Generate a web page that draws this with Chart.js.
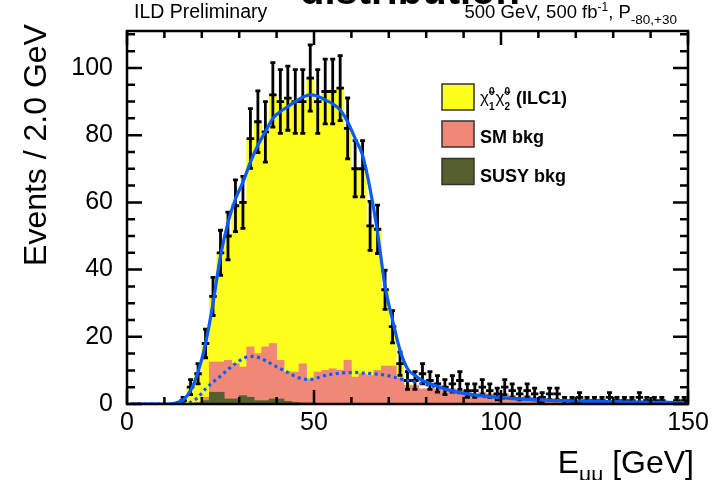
<!DOCTYPE html>
<html>
<head>
<meta charset="utf-8">
<script src="https://cdn.jsdelivr.net/npm/chart.js@4.4.1/dist/chart.umd.min.js"></script>
<style>
  html, body { margin: 0; padding: 0; background: #fff; }
  #wrap { width: 715px; height: 480px; }
</style>
</head>
<body>
<div id="wrap"><canvas id="emumuChart" width="715" height="480"></canvas></div>
<script>
// E_mumu, 2 GeV bins from 0 to 150 GeV, one value per bin (centre 1, 3, ..., 149)
const binCenters = Array.from({ length: 75 }, (_, i) => 1 + 2 * i);

const dataEvents = [
    0, 0, 0, 0, 0, 0, 0, 1, 5, 9,
    18, 32, 45, 50, 59, 60, 79, 84, 81, 92,
    90, 91, 90, 90, 97, 90, 93, 93, 94, 82,
    70, 70, 53, 52, 34, 23, 12, 7, 7, 9,
    7, 6, 5, 6, 7, 4, 4, 5, 4, 3,
    5, 4, 3, 4, 3, 2, 3, 3, 1, 1,
    2, 1, 1, 1, 2, 1, 1, 1, 2, 1,
    1, 1, 0, 1, 1
];

const signalEvents = [
    0, 0, 0, 0, 0, 0, 0.3, 1.2, 5, 8.5,
    16, 20, 32.5, 37, 47, 49, 62, 69, 64, 74,
    77, 81.5, 80.5, 78, 89.5, 80.5, 83, 82.5, 84, 69,
    62, 61, 44.5, 42, 22.5, 11.5, 4, 0.5, 0, 0,
    0, 0, 0, 0, 0, 0, 0, 0, 0, 0,
    0, 0, 0, 0, 0, 0, 0, 0, 0, 0,
    0, 0, 0, 0, 0, 0, 0, 0, 0, 0,
    0, 0, 0, 0, 0
];

const smBkgEvents = [
    0, 0, 0, 0, 0, 0, 0, 0, 0, 0.2,
    1, 9, 9, 11.5, 10.5, 8.5, 15, 14, 16, 16.5,
    11.5, 8.7, 9, 11.7, 7.2, 9.3, 9.8, 10.3, 9.8, 12.8,
    7.8, 8.8, 8.3, 9.8, 11.3, 11.3, 7.8, 5.5, 5.5, 4.5,
    4.5, 4.5, 4, 4.5, 4, 3.5, 3, 3.5, 3, 2.5,
    3, 2.5, 2, 2.5, 2, 1.5, 1.5, 1, 1, 0.8,
    0.8, 0.6, 0.6, 0.5, 0.5, 0.4, 0.4, 0.3, 0.3, 0.3,
    0.2, 0.2, 0.2, 0.1, 0.1
];

const susyBkgEvents = [
    0, 0, 0, 0, 0, 0, 0, 0, 0, 0.3,
    1, 3.5, 3.5, 1.5, 1.5, 2.5, 2, 1, 1, 1.5,
    1.5, 0.8, 0.5, 0.3, 0.3, 0.2, 0.2, 0.2, 0.2, 0.2,
    0.2, 0.2, 0.2, 0.2, 0, 0, 0, 0, 0, 0,
    0, 0, 0, 0, 0, 0, 0, 0, 0, 0,
    0, 0, 0, 0, 0, 0, 0, 0, 0, 0,
    0, 0, 0, 0, 0, 0, 0, 0, 0, 0,
    0, 0, 0, 0, 0
];

// fitted curves read at the bin centres
const fitTotal = [
    0, 0, 0, 0, 0, 0, 0.3, 1.2, 4, 9.5,
    18, 30, 44, 54, 61, 66, 72, 77, 81, 85,
    87, 88.5, 90, 91.3, 92, 91.6, 90.5, 89.3, 87.5, 84,
    79, 74, 64, 51, 35, 25, 16, 10.5, 8.5, 7,
    6, 5.3, 4.5, 3.9, 3.4, 3, 2.7, 2.4, 2.2, 2,
    1.8, 1.6, 1.5, 1.4, 1.3, 1.2, 1.1, 1, 1, 0.9,
    0.9, 0.8, 0.8, 0.7, 0.7, 0.7, 0.6, 0.6, 0.6, 0.5,
    0.5, 0.5, 0.5, 0.4, 0.4
];

const fitBkg = [
    0, 0, 0, 0, 0, 0, 0, 0.1, 0.5, 2,
    4.5, 6.5, 8.3, 10.3, 12, 13.5, 14.2, 13.9, 12.9, 11.7,
    10.5, 9.4, 8.2, 7.5, 7.3, 7.8, 8.5, 8.9, 9.2, 9.3,
    9.4, 9.2, 9.1, 8.9, 8.6, 8.1, 7.5, 7, 6.6, 6,
    5.5, 5, 4.4, 3.8, 3.3, 2.9, 2.6, 2.3, 2.1, 1.9,
    1.7, 1.6, 1.5, 1.4, 1.3, 1.2, 1.1, 1, 1, 0.9,
    0.9, 0.8, 0.8, 0.7, 0.7, 0.7, 0.6, 0.6, 0.6, 0.5,
    0.5, 0.5, 0.5, 0.4, 0.4
];

const xTickLabels = [0, 50, 100, 150];
const yTickLabels = [0, 20, 40, 60, 80, 100];

const legendItems = [
    { label: "signal", color: "#ffff1e" },
    { label: "SM bkg", color: "#f08878" },
    { label: "SUSY bkg", color: "#56602e" }
];

const FONT = "'Liberation Sans', Arial, sans-serif";
const BIN_WIDTH = 2;

const toPoints = (values) => binCenters.map((c, i) => ({ x: c, y: values[i] }));

// draws the data error bars (sqrt N) with small end caps
const errorBars = {
    id: "errorBars",
    afterDatasetDraw(chart, args) {
        if (chart.data.datasets[args.index].label !== "data") return;
        const { ctx, chartArea, scales: { x, y } } = chart;
        ctx.save();
        ctx.beginPath();
        ctx.rect(chartArea.left, chartArea.top, chartArea.right - chartArea.left, chartArea.bottom - chartArea.top);
        ctx.clip();
        ctx.strokeStyle = "#000";
        ctx.lineWidth = 2.8;
        dataEvents.forEach((n, i) => {
            if (n <= 0) return;
            const c = binCenters[i];
            const err = Math.sqrt(n);
            const px = x.getPixelForValue(c);
            const py = y.getPixelForValue(n);
            const yTop = y.getPixelForValue(n + err);
            const yBot = y.getPixelForValue(Math.max(0, n - err));
            ctx.beginPath();
            ctx.moveTo(x.getPixelForValue(c - BIN_WIDTH / 2), py);
            ctx.lineTo(x.getPixelForValue(c + BIN_WIDTH / 2), py);
            ctx.moveTo(px, yTop);
            ctx.lineTo(px, yBot);
            ctx.moveTo(px - 2.5, yTop);
            ctx.lineTo(px + 2.5, yTop);
            ctx.moveTo(px - 2.5, yBot);
            ctx.lineTo(px + 2.5, yBot);
            ctx.stroke();
        });
        ctx.restore();
    }
};

// ROOT-like frame, inward ticks, axis labels, legend and header texts
const frameAndText = {
    id: "frameAndText",
    afterDraw(chart) {
        const { ctx, chartArea: a, scales: { x, y } } = chart;
        ctx.save();
        ctx.strokeStyle = "#000";
        ctx.lineWidth = 2.5;
        ctx.strokeRect(a.left, a.top, a.right - a.left, a.bottom - a.top);

        ctx.beginPath();
        for (let v = 0; v <= 150; v += 10) {
            const px = x.getPixelForValue(v);
            const len = v % 50 === 0 ? 14 : 7;
            ctx.moveTo(px, a.bottom); ctx.lineTo(px, a.bottom - len);
            ctx.moveTo(px, a.top); ctx.lineTo(px, a.top + len);
        }
        for (let v = 0; v <= 110; v += 5) {
            const py = y.getPixelForValue(v);
            const len = v % 20 === 0 ? 15 : 8;
            ctx.moveTo(a.left, py); ctx.lineTo(a.left + len, py);
            ctx.moveTo(a.right, py); ctx.lineTo(a.right - len, py);
        }
        ctx.stroke();

        ctx.fillStyle = "#000";
        ctx.font = "25px " + FONT;
        ctx.textAlign = "right";
        ctx.textBaseline = "middle";
        yTickLabels.forEach(v => ctx.fillText(String(v), a.left - 14, y.getPixelForValue(v)));
        ctx.textAlign = "center";
        xTickLabels.forEach(v => ctx.fillText(String(v), x.getPixelForValue(v), a.bottom + 19));

        // y title
        ctx.save();
        ctx.translate(46, 145);
        ctx.rotate(-Math.PI / 2);
        ctx.textAlign = "center";
        ctx.textBaseline = "alphabetic";
        ctx.font = "32px " + FONT;
        ctx.fillText("Events / 2.0 GeV", 0, 0);
        ctx.restore();

        // x title E_mumu [GeV], right aligned
        ctx.textBaseline = "alphabetic";
        ctx.textAlign = "left";
        const big = "32px " + FONT, small = "21px " + FONT;
        ctx.font = big; const wE = ctx.measureText("E").width; const wRest = ctx.measureText(" [GeV]").width;
        ctx.font = small; const wMu = ctx.measureText("μμ").width;
        let tx = 694 - (wE + wMu + wRest);
        ctx.font = big; ctx.fillText("E", tx, 473); tx += wE;
        ctx.font = small; ctx.fillText("μμ", tx, 481); tx += wMu;
        ctx.font = big; ctx.fillText(" [GeV]", tx, 473);

        // header texts
        ctx.font = "19.5px " + FONT;
        ctx.fillText("ILD Preliminary", 134, 18);
        const parts = [
            ["500 GeV, 500 fb", "18.5px", 18],
            ["-1", "12px", 11],
            [", P", "18.5px", 18],
            ["-80,+30", "13.5px", 24]
        ];
        let w = 0;
        parts.forEach(p => { ctx.font = p[1] + " " + FONT; w += ctx.measureText(p[0]).width; });
        let hx = 677 - w;
        parts.forEach(p => {
            ctx.font = p[1] + " " + FONT;
            ctx.fillText(p[0], hx, p[2]);
            hx += ctx.measureText(p[0]).width;
        });

        // clipped slide title above the plot
        ctx.font = "bold 40px " + FONT;
        ctx.fillText("distribution", 300, 4);

        // legend
        const boxes = [[442, 84], [442, 121], [442, 158.5]];
        legendItems.forEach((item, i) => {
            const [bx, by] = boxes[i];
            ctx.fillStyle = item.color;
            ctx.fillRect(bx, by, 32, 26);
            ctx.strokeStyle = "#333";
            ctx.lineWidth = 1.5;
            ctx.strokeRect(bx, by, 32, 26);
        });
        ctx.fillStyle = "#000";
        ctx.font = "bold 18px " + FONT;
        ctx.fillText("SM bkg", 480, 142.5);
        ctx.fillText("SUSY bkg", 480, 181.5);
        // chi~0_1 chi~0_2 (ILC1)
        let lx = 480;
        ["1", "2"].forEach(sub => {
            ctx.font = "17px " + FONT;
            ctx.fillText("χ̃", lx, 103);
            lx += ctx.measureText("χ").width;
            ctx.font = "bold 10px " + FONT;
            ctx.fillText("0", lx, 95);
            ctx.fillText(sub, lx, 110);
            lx += ctx.measureText("0").width + 1;
        });
        ctx.font = "bold 18px " + FONT;
        ctx.fillText(" (ILC1)", lx, 104);
        ctx.restore();
    }
};

new Chart(document.getElementById("emumuChart"), {
    type: "bar",
    data: {
        datasets: [
            {
                type: "line", label: "fit", stack: "fit", order: 0,
                data: toPoints(fitTotal),
                borderColor: "#0a5cf5", borderWidth: 3.2,
                pointRadius: 0, cubicInterpolationMode: "monotone", fill: false
            },
            {
                type: "line", label: "fit bkg", stack: "fitBkg", order: 1,
                data: toPoints(fitBkg),
                borderColor: "#0a5cf5", borderWidth: 3.2, borderDash: [3, 3.5],
                pointRadius: 0, cubicInterpolationMode: "monotone", fill: false
            },
            {
                type: "line", label: "data", stack: "data", order: 2,
                data: binCenters.map((c, i) => ({ x: c, y: dataEvents[i] > 0 ? dataEvents[i] : null })),
                showLine: false, pointRadius: 0
            },
            {
                label: "SUSY bkg", stack: "mc", order: 3,
                data: toPoints(susyBkgEvents),
                backgroundColor: legendItems[2].color
            },
            {
                label: "SM bkg", stack: "mc", order: 4,
                data: toPoints(smBkgEvents),
                backgroundColor: legendItems[1].color
            },
            {
                label: "signal", stack: "mc", order: 5,
                data: toPoints(signalEvents),
                backgroundColor: legendItems[0].color
            }
        ]
    },
    options: {
        responsive: false,
        animation: false,
        layout: { padding: { left: 127, right: 27, top: 31, bottom: 76 } },
        datasets: { bar: { barPercentage: 1, categoryPercentage: 1, borderWidth: 0 } },
        scales: {
            x: { type: "linear", min: 0, max: 150, offset: false, stacked: true, display: false },
            y: { type: "linear", min: 0, max: 111, stacked: true, display: false }
        },
        plugins: { legend: { display: false }, tooltip: { enabled: false } }
    },
    plugins: [errorBars, frameAndText]
});
</script>
</body>
</html>
